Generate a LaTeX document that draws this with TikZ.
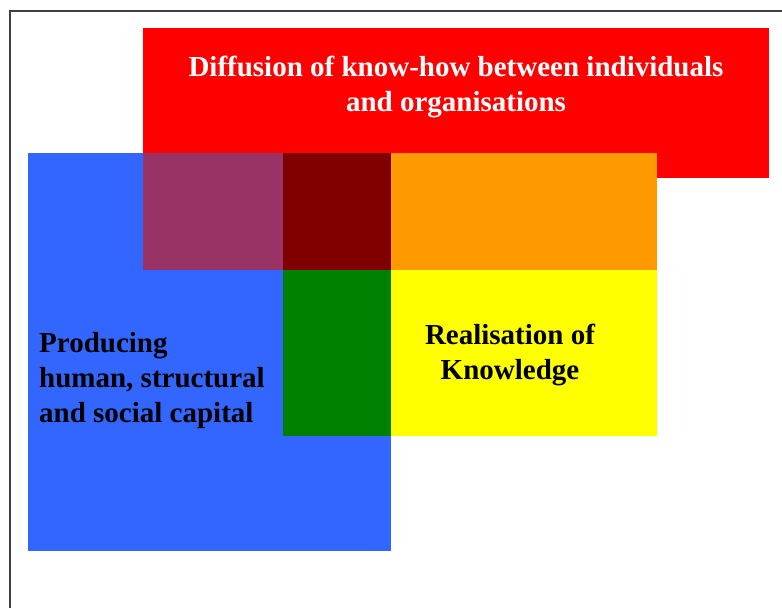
\documentclass[tikz,border=0pt]{standalone}
\usepackage{fontspec}
\setmainfont{Liberation Serif}
\usetikzlibrary{positioning}

\begin{document}
\begin{tikzpicture}
[x=1pt,y=-1pt,
  areaDecorate/.style={draw=none,inner sep=0pt,outer sep=0pt},%
  textDecorate/.style={font=\fontsize{29}{35}\selectfont\bfseries,inner sep=0pt},%
  frameDecorate/.style={draw=black!75,line width=1.2pt}]
\useasboundingbox (0,0) rectangle (782,608);
%% outer frame
\draw[frameDecorate] (10,608) -- (10,11) -- (782,11);
%% areas
\definecolor{diffRed}{HTML}{FF0000}
\definecolor{prodBlue}{HTML}{3366FF}
\definecolor{mixOrange}{HTML}{FF9900}
\definecolor{realYellow}{HTML}{FFFF00}
\definecolor{mixGreen}{HTML}{008000}
\definecolor{mixDark}{HTML}{800000}
\definecolor{mixPurple}{HTML}{993366}
\foreach \col/\xa/\ya/\xb/\yb in {
  diffRed/143/28/769/178, prodBlue/28/153/391/551,
  mixOrange/391/153/657/270, realYellow/391/270/657/436,
  mixGreen/283/270/391/436, mixDark/283/153/391/270,
  mixPurple/143/153/283/270}
{
  \fill[\col] (\xa,\ya) rectangle (\xb,\yb);
}
%% labels
\node (diffusion) at (456,87) [textDecorate,text=white,align=center]
  {Diffusion of know-how between individuals\\and organisations};
\node (producing) at (39,381) [textDecorate,anchor=west,align=left]
  {Producing\\human, structural\\and social capital};
\node (realisation) at (510,355) [textDecorate,align=center]
  {Realisation of\\Knowledge};
\end{tikzpicture}
\end{document}
